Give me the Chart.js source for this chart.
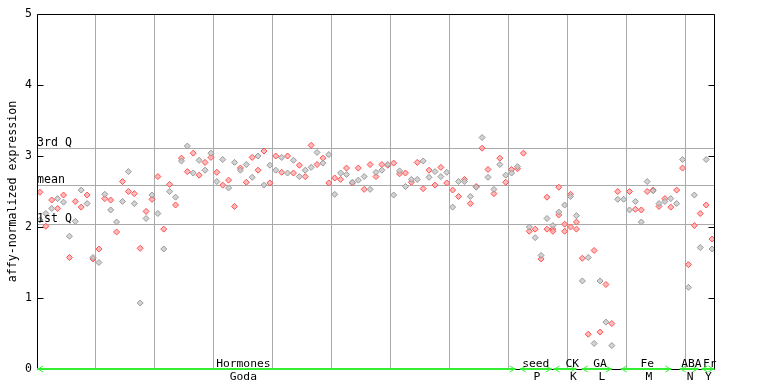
<!DOCTYPE html>
<html><head><meta charset="utf-8">
<script src="https://cdn.jsdelivr.net/npm/chart.js@4/dist/chart.umd.min.js"></script>
<style>html,body{margin:0;padding:0;background:#fff}</style>
</head><body>
<canvas id="c" width="768" height="384"></canvas>
<script>
// ---- data ----
const redVals = [2.49,2.01,2.38,2.26,2.45,1.57,2.36,2.28,2.45,1.55,
1.69,2.40,2.38,1.93,2.64,2.50,2.47,1.70,2.22,2.39,
2.71,1.97,2.60,2.31,2.97,2.78,3.04,2.73,2.91,2.98,
2.77,2.59,2.66,2.29,2.83,2.63,2.98,2.80,3.07,2.62,
3.00,2.77,3.00,2.76,2.87,2.71,3.15,2.88,2.97,2.62,
2.69,2.67,2.83,2.62,2.83,2.53,2.88,2.71,2.88,2.87,
2.90,2.75,2.76,2.63,2.91,2.54,2.80,2.59,2.84,2.62,
2.52,2.43,2.67,2.33,2.57,3.11,2.81,2.47,2.97,2.63,
2.81,2.82,3.04,1.94,1.97,1.55,2.42,1.94,2.56,2.04,
2.46,2.07,1.56,0.49,1.67,0.52,1.19,0.64,2.50,null,
2.50,2.25,2.24,2.50,2.52,2.29,2.40,2.28,2.52,2.83,
1.47,2.02,2.19,2.31,1.83];
const greyVals = [2.10,2.19,2.26,2.40,2.35,1.87,2.08,2.52,2.33,1.57,
1.50,2.46,2.24,2.07,2.36,2.78,2.33,0.93,2.12,2.45,
2.19,1.69,2.50,2.42,2.93,3.14,2.76,2.94,2.80,3.04,
2.64,2.95,2.55,2.91,2.80,2.88,2.70,3.00,2.59,2.87,
2.80,2.98,2.76,2.94,2.71,2.80,2.84,3.05,2.90,3.02,
2.46,2.76,2.74,2.63,2.66,2.71,2.53,2.77,2.80,2.88,
2.45,2.79,2.57,2.67,2.67,2.93,2.70,2.78,2.71,2.77,
2.28,2.64,2.64,2.43,2.56,3.26,2.70,2.53,2.88,2.73,
2.76,2.85,null,2.00,1.85,1.60,2.12,2.02,2.21,2.31,
2.43,2.16,1.24,1.57,0.36,1.24,0.66,0.33,2.39,2.39,
2.24,2.36,2.07,2.64,2.51,2.33,2.36,2.40,2.33,2.95,
1.15,2.45,1.71,2.95,1.69];
const extraIdx  = [86,87,88,89,90,91];
const extraVals = [1.97,1.97,2.17,1.94,2.00,1.97];

const qValues = [3.11, 2.59, 2.04];
const qLabels = ['3rd Q','mean','1st Q'];

const groupTop    = ['Hormones','seed','CK','GA','Fe','ABA','Fr'];
const groupBottom = ['Goda','P','K','L','M','N','Y'];
const groupStart  = [-0.5, 81.4, 87.1, 91.9, 98.5, 108.5, 112.2];
const groupEnd    = [80.7, 86.8, 91.0, 97.0, 107.1, 111.7, 114.4];
const groupLabelAt= [34.5, 84.1, 90.3, 95.0, 103.0, 110.5, 113.6];
const groupSubAt  = [34.5, 84.3, 90.5, 95.3, 103.3, 110.3, 113.4];

const gridIdx = [9.5,19.5,29.5,39.5,49.5,59.5,69.5,79.5,89.5,99.5,109.5];
const yTitle = 'affy-normalized expression';

// ---- build ----
const toPts = arr => arr.map((v,i)=> v==null?null:{x:i,y:v}).filter(p=>p);
const extraPts = extraIdx.map((x,i)=>({x:x,y:extraVals[i]}));
const FONT = 'DejaVu Sans Mono';

const overlay = {
  id:'overlay',
  beforeDatasetsDraw(chart){
    const {ctx, chartArea:a, scales:{y}} = chart;
    ctx.save();
    ctx.strokeStyle = '#aaaaaa'; ctx.lineWidth = 1;
    qValues.forEach(v=>{
      const py = Math.round(y.getPixelForValue(v))+0.5;
      ctx.beginPath(); ctx.moveTo(a.left, py); ctx.lineTo(a.right, py); ctx.stroke();
    });
    ctx.restore();
  },
  afterDatasetsDraw(chart){
    const {ctx, chartArea:a, scales:{x,y}} = chart;
    ctx.save();
    ctx.strokeStyle = '#000'; ctx.lineWidth = 1;
    const L = Math.round(a.left)+0.5, R = Math.round(a.right)-0.5, T = Math.round(a.top)+0.5, B = Math.round(a.bottom)+0.5;
    ctx.beginPath();
    ctx.moveTo(L,T); ctx.lineTo(R,T); ctx.moveTo(L,T); ctx.lineTo(L,B); ctx.lineTo(R,B); ctx.moveTo(R,T); ctx.lineTo(R,B);
    ctx.stroke();
    for (let v=0; v<=5; v++){
      const py = Math.round(y.getPixelForValue(v))+0.5;
      ctx.beginPath(); ctx.moveTo(L,py); ctx.lineTo(L+6,py); ctx.moveTo(R,py); ctx.lineTo(R-6,py); ctx.stroke();
    }
    ctx.fillStyle = '#000'; ctx.font = '11.6px "'+FONT+'"'; ctx.textBaseline='alphabetic'; ctx.textAlign='left';
    qValues.forEach((v,i)=>{
      const py = y.getPixelForValue(v);
      ctx.fillText(qLabels[i], a.left, py-2.5);
    });
    const gy = Math.round(y.getPixelForValue(0));
    ctx.strokeStyle = '#33ee33'; ctx.fillStyle = '#33ee33';
    groupTop.forEach((g,i)=>{
      const x0 = x.getPixelForValue(groupStart[i]), x1 = x.getPixelForValue(groupEnd[i]);
      ctx.fillRect(x0, gy-1, x1-x0, 2);
      ctx.lineWidth = 1;
      ctx.beginPath();
      ctx.moveTo(x0+6, gy-3); ctx.lineTo(x0+1, gy); ctx.lineTo(x0+6, gy+3);
      ctx.moveTo(x1-6, gy-3); ctx.lineTo(x1-1, gy); ctx.lineTo(x1-6, gy+3);
      ctx.stroke();
    });
    ctx.fillStyle = '#000'; ctx.font = '11.3px "'+FONT+'"'; ctx.textAlign='center'; ctx.textBaseline='alphabetic';
    groupTop.forEach((g,i)=>{ ctx.fillText(g, x.getPixelForValue(groupLabelAt[i]), 367); });
    groupBottom.forEach((g,i)=>{ ctx.fillText(g, x.getPixelForValue(groupSubAt[i]), 380); });
    ctx.translate(12.5, (a.top+a.bottom)/2);
    ctx.rotate(-Math.PI/2);
    ctx.font = '11.6px "'+FONT+'"'; ctx.textAlign='center'; ctx.textBaseline='middle';
    ctx.fillText(yTitle, 0, 0);
    ctx.restore();
  }
};

const ptStyle = (border, bg) => ({pointStyle:'rectRot', pointRadius:3, pointBorderWidth:1, borderColor:border, backgroundColor:bg, pointHoverRadius:3});

new Chart(document.getElementById('c').getContext('2d'), {
  type:'scatter',
  data:{datasets:[
    Object.assign({label:'grey', data:toPts(greyVals)}, ptStyle('#999999','rgba(200,200,200,0.8)')),
    Object.assign({label:'red', data:toPts(redVals)}, ptStyle('#ff5050','rgba(255,170,170,0.8)')),
    Object.assign({label:'red2', data:extraPts}, ptStyle('#ff5050','rgba(255,170,170,0.8)'))
  ]},
  options:{
    responsive:false, animation:false, devicePixelRatio:1,
    layout:{padding:{left:0,right:53,top:14,bottom:0}},
    plugins:{legend:{display:false}, tooltip:{enabled:false}},
    scales:{
      x:{type:'linear', min:-0.5, max:114.5,
         afterBuildTicks(s){ s.ticks = gridIdx.map(v=>({value:v})); },
         ticks:{display:false}, grid:{color:'#aaaaaa', lineWidth:1, drawTicks:false},
         border:{display:false}, afterFit(s){ s.height = 15; }},
      y:{min:0, max:5, ticks:{stepSize:1, color:'#000', font:{family:FONT, size:11.5}, padding:5},
         grid:{display:false, drawTicks:false}, border:{display:false},
         afterFit(s){ s.width = 37; }}
    }
  },
  plugins:[overlay]
});
</script>
</body></html>
